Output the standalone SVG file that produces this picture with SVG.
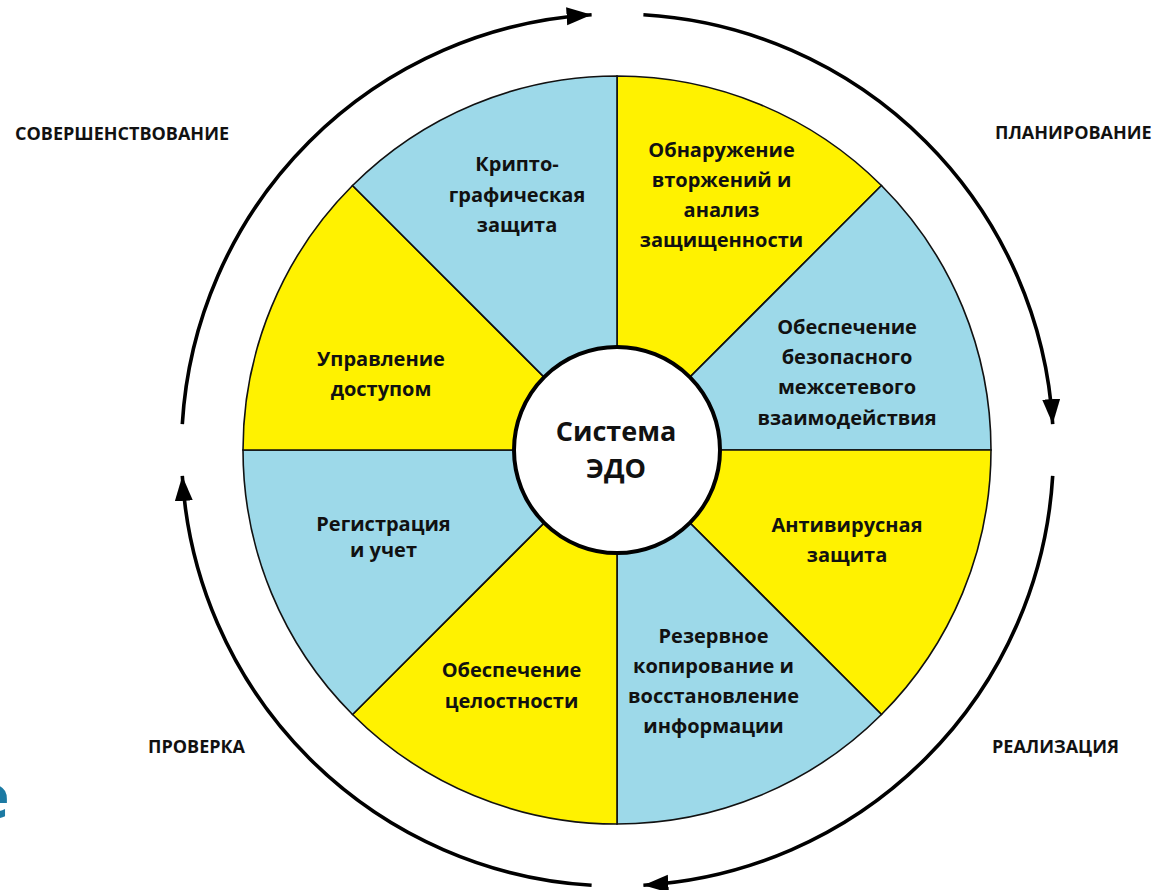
<svg xmlns="http://www.w3.org/2000/svg" width="1153" height="890" viewBox="0 0 1153 890">
<style>
text{font-family:"Open Sans","Noto Sans","DejaVu Sans",sans-serif;font-weight:700;fill:#111}
.seg{font-size:20px;text-anchor:middle}
.cyc{font-size:18px}
.blue{fill:#9dd9e9;stroke:#111;stroke-width:1.6}
.yel{fill:#fff200;stroke:#111;stroke-width:1.6}
.ring{fill:none;stroke:#000;stroke-width:3.6;marker-end:url(#ah)}
</style>
<defs>
<marker id="ah" markerUnits="userSpaceOnUse" markerWidth="27" markerHeight="19" refX="25" refY="9" orient="auto">
<path d="M0,0 L25,9 L0,18 z" fill="#000"/>
</marker>
</defs>
<rect width="1153" height="890" fill="#fff"/>
<text x="-26" y="818" style="font-size:60px;fill:#1c7aa3;font-weight:700">е</text>
<g id="connectors">
<path class="ring" d="M182.3,424.1 A436,436 0 0 1 591.6,14.8"/>
<path class="ring" d="M643.4,14.8 A436,436 0 0 1 1052.7,424.1"/>
<path class="ring" d="M1052.7,475.9 A436,436 0 0 1 643.4,885.2"/>
<path class="ring" d="M591.6,885.2 A436,436 0 0 1 182.3,475.9"/>
</g>
<g id="seg-detect"><path class="yel" d="M617,450 L617,76 A374,374 0 0 1 881.46,185.54 Z"/>
<text class="seg" x="721.5" y="157">Обнаружение</text><text class="seg" x="721.5" y="187">вторжений и</text><text class="seg" x="721.5" y="217">анализ</text><text class="seg" x="721.5" y="247">защищенности</text></g>
<g id="seg-network"><path class="blue" d="M617,450 L881.46,185.54 A374,374 0 0 1 991,450 Z"/>
<text class="seg" x="847" y="334">Обеспечение</text><text class="seg" x="847" y="364">безопасного</text><text class="seg" x="847" y="394">межсетевого</text><text class="seg" x="847" y="425">взаимодействия</text></g>
<g id="seg-antivirus"><path class="yel" d="M617,450 L991,450 A374,374 0 0 1 881.46,714.46 Z"/>
<text class="seg" x="847" y="532">Антивирусная</text><text class="seg" x="847" y="562">защита</text></g>
<g id="seg-backup"><path class="blue" d="M617,450 L881.46,714.46 A374,374 0 0 1 617,824 Z"/>
<text class="seg" x="713.5" y="643">Резервное</text><text class="seg" x="713.5" y="673">копирование и</text><text class="seg" x="713.5" y="703">восстановление</text><text class="seg" x="713.5" y="733">информации</text></g>
<g id="seg-integrity"><path class="yel" d="M617,450 L617,824 A374,374 0 0 1 352.54,714.46 Z"/>
<text class="seg" x="511.5" y="677">Обеспечение</text><text class="seg" x="511.5" y="708">целостности</text></g>
<g id="seg-registration"><path class="blue" d="M617,450 L352.54,714.46 A374,374 0 0 1 243,450 Z"/>
<text class="seg" x="383.5" y="531">Регистрация</text><text class="seg" x="383.5" y="557">и учет</text></g>
<g id="seg-access"><path class="yel" d="M617,450 L243,450 A374,374 0 0 1 352.54,185.54 Z"/>
<text class="seg" x="381" y="366">Управление</text><text class="seg" x="381" y="396">доступом</text></g>
<g id="seg-crypto"><path class="blue" d="M617,450 L352.54,185.54 A374,374 0 0 1 617,76 Z"/>
<text class="seg" x="517" y="171">Крипто-</text><text class="seg" x="517" y="202">графическая</text><text class="seg" x="517" y="232">защита</text></g>
<g id="center"><circle cx="617" cy="450" r="103" fill="#fff" stroke="#000" stroke-width="4"/>
<text x="616" y="441" style="font-size:27px;text-anchor:middle">Система</text><text x="616" y="478" style="font-size:27px;text-anchor:middle">ЭДО</text></g>
<g id="labels">
<text class="cyc" x="15" y="140">СОВЕРШЕНСТВОВАНИЕ</text>
<text class="cyc" x="995" y="139">ПЛАНИРОВАНИЕ</text>
<text class="cyc" x="148" y="753">ПРОВЕРКА</text>
<text class="cyc" x="992" y="753">РЕАЛИЗАЦИЯ</text>
</g>
</svg>
